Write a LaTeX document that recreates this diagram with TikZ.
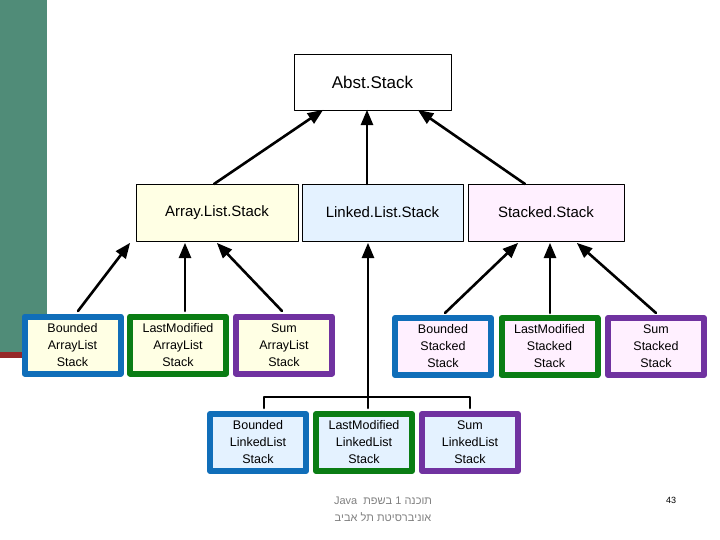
\documentclass[tikz,border=0pt]{standalone}
\usepackage{fontspec}
\setmainfont{Liberation Sans}
\usepackage{tikz}
\usetikzlibrary{arrows}
\TeXXeTstate=1
\definecolor{bargreen}{RGB}{80,140,120}
\definecolor{barred}{RGB}{150,40,40}
\definecolor{fyellow}{RGB}{255,255,228}
\definecolor{fblue}{RGB}{228,242,255}
\definecolor{fpink}{RGB}{255,240,255}
\definecolor{kblue}{RGB}{16,110,185}
\definecolor{kgreen}{RGB}{10,125,20}
\definecolor{kpurple}{RGB}{112,50,160}
\tikzset{
  base/.style={draw=black,line width=0.5pt,minimum width=162pt,minimum height=57pt,inner sep=0pt,font=\fontsize{15}{18}\selectfont},
  leaf/.style={draw=#1,line width=6pt,minimum width=96pt,minimum height=57pt,inner sep=0pt,align=center,font=\fontsize{12.5}{17}\selectfont},
  inh/.style={line width=2.6pt,->,>=triangle 45},
}
\begin{document}
\begin{tikzpicture}[line cap=round,line join=round,x=1pt,y=-1pt]
\useasboundingbox (0,0) rectangle (720,540);
\fill[bargreen] (0,0) rectangle (47,352);
\fill[barred] (0,352) rectangle (47,358);
\node[base,fill=white,minimum width=157pt,minimum height=56pt,font=\fontsize{17}{20}\selectfont] (abst) at (372.5,82) {Abst.Stack};
\node[base,fill=fyellow] (als) at (217,212.5) {Array.List.Stack};
\node[base,fill=fblue,minimum width=161pt] (lls) at (382.5,212.5) {Linked.List.Stack};
\node[base,fill=fpink,minimum width=156pt] (ss) at (546,212.5) {Stacked.Stack};
\draw[inh] (214,184) -- (323,110);
\draw[inh] (367,184) -- (367,110);
\draw[inh] (525,184) -- (418,110);
% array list row
\node[leaf=kblue,fill=fyellow] (bals) at (72.5,345) {Bounded\\ArrayList\\Stack};
\node[leaf=kgreen,fill=fyellow] (mals) at (178,345) {LastModified\\ArrayList\\Stack};
\node[leaf=kpurple,fill=fyellow] (sals) at (284,345) {Sum\\ArrayList\\Stack};
\draw[inh] (78,311) -- (130,243);
\draw[inh] (185,311) -- (185,243);
\draw[inh] (282,311) -- (217,243);
% stacked row
\node[leaf=kblue,fill=fpink] (bss) at (443,346.5) {Bounded\\Stacked\\Stack};
\node[leaf=kgreen,fill=fpink] (mss) at (549.5,346.5) {LastModified\\Stacked\\Stack};
\node[leaf=kpurple,fill=fpink] (sss) at (656,346.5) {Sum\\Stacked\\Stack};
\draw[inh] (445,313) -- (518,243);
\draw[inh] (550,313) -- (550,243);
\draw[inh] (656,313) -- (577,243);
% linked list row
\node[leaf=kblue,fill=fblue] (blls) at (258,442.5) {Bounded\\LinkedList\\Stack};
\node[leaf=kgreen,fill=fblue] (mlls) at (364,442.5) {LastModified\\LinkedList\\Stack};
\node[leaf=kpurple,fill=fblue] (slls) at (470,442.5) {Sum\\LinkedList\\Stack};
\draw[inh] (368,408) -- (368,243);
\draw[line width=2.6pt] (264,408) |- (470,397) -- (470,408);
\node[text=gray,align=center,font=\fontsize{11}{17}\selectfont] (foot) at (383,509) {Java\ \ \beginR תוכנה 1 בשפת\endR\\\beginR אוניברסיטת תל אביב\endR};
\node[font=\fontsize{9}{10}\selectfont] (page) at (671,500) {43};
\end{tikzpicture}
\end{document}
